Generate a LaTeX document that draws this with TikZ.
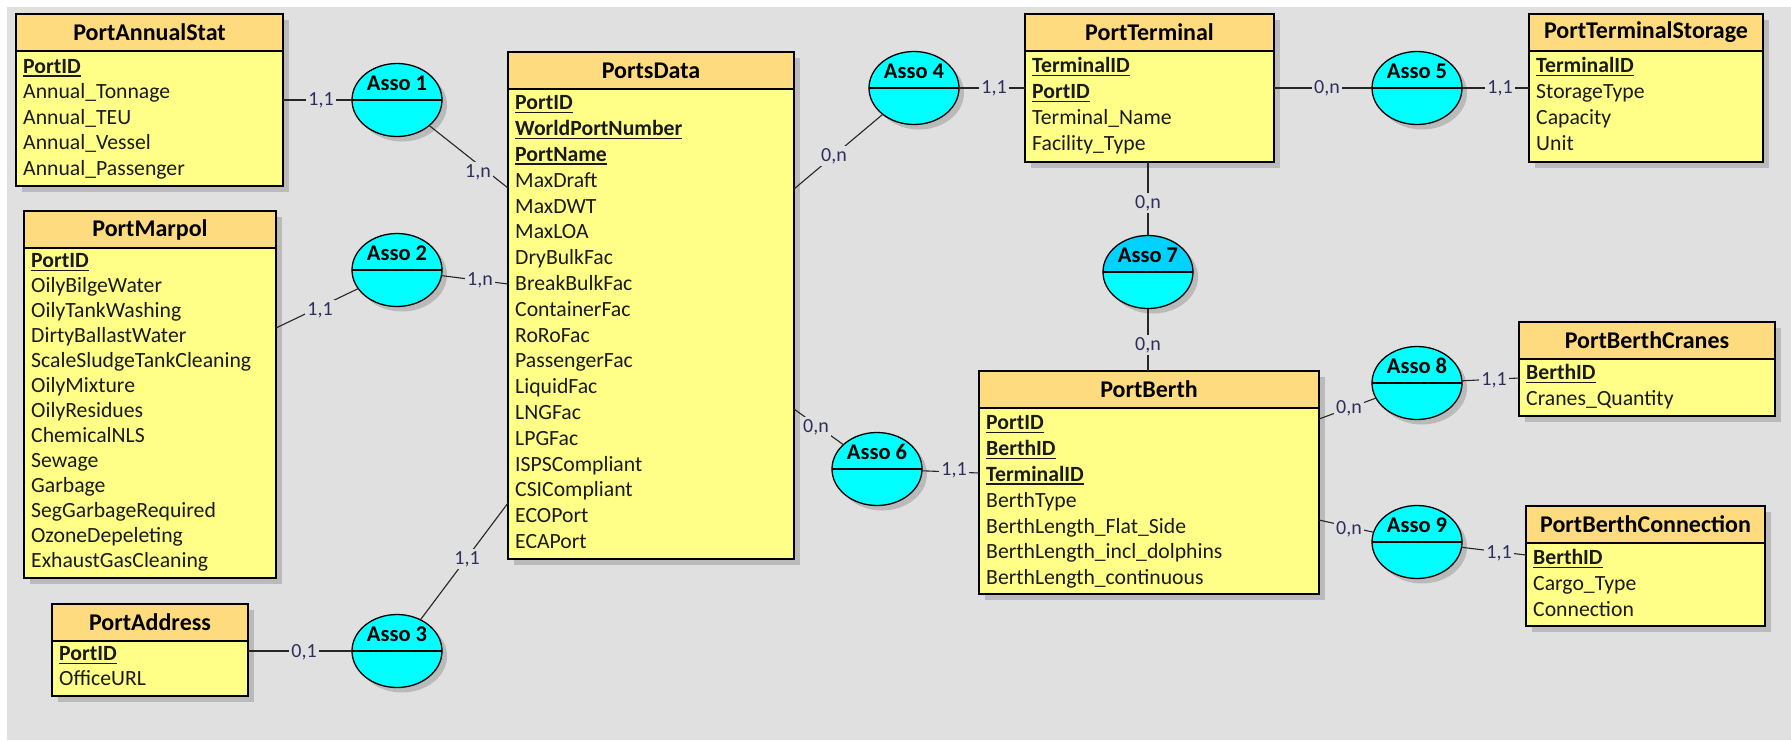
\documentclass[tikz,border=0pt]{standalone}
\usepackage{fontspec}
\setmainfont{Carlito}
\usetikzlibrary{shapes.geometric,shadows,calc}
\definecolor{bgc}{HTML}{E0E0E0}
\definecolor{bodyc}{HTML}{FFFF88}
\definecolor{headc}{HTML}{FFDB80}
\definecolor{assoc}{HTML}{00FFFF}
\definecolor{assotop}{HTML}{00D2FF}
\definecolor{cardc}{HTML}{2E2E5E}
\definecolor{txtc}{HTML}{1A1A1A}
\newcommand\pk[1]{\setbox0\hbox{\textbf{#1}}\rlap{\rule[-3.5pt]{\wd0}{1.6pt}}\box0}
% name, x1, y1, x2, y2, title, first row centre, spacing, rows
\newcommand\entity[9]{%
  \node[entbody, minimum width={(#4-#2)*1pt}, minimum height={(#5-#3)*1pt}, anchor=north west] (#1) at (#2,#3) {};
  \node[enthead, minimum width={(#4-#2)*1pt}, anchor=north west] (#1-title) at (#1.north west) {#6};
  \foreach \t [count=\i] in {#9} \node[attr] (#1-\i) at (#2+7, {#7+6.8+(\i-1)*#8}) {\t};
}
\newcommand\asso[5][]{%
  \node[asso,#1] (#2) at (#3,#4) {};
  \draw[assoline] (#2.west) -- (#2.east);
  \node[assolabel] (#2-t) at ([yshift=17pt]#2.center) {#5};
}
\begin{document}
\begin{tikzpicture}[x=1pt, y=-1pt,
  entbody/.style={draw=black, line width=1.3pt, fill=bodyc, inner sep=0pt, outer sep=0pt,
     drop shadow={shadow xshift=6pt, shadow yshift=-6pt, fill=black, opacity=0.17}},
  enthead/.style={draw=black, line width=1.3pt, fill=headc, inner sep=0pt, outer sep=0pt,
     minimum height=37pt, font=\fontsize{24}{28}\selectfont\bfseries, text=black},
  attr/.style={anchor=base west, inner sep=0pt, font=\fontsize{21.7}{26}\selectfont, text=txtc},
  asso/.style={ellipse, draw=black, line width=1.3pt, fill=assoc, inner sep=0pt, outer sep=0pt,
     minimum width=90pt, minimum height=73pt,
     drop shadow={shadow xshift=5pt, shadow yshift=-5pt, fill=black, opacity=0.17}},
  assoline/.style={draw=black, line width=1.3pt},
  assolabel/.style={inner sep=0pt, font=\fontsize{22.5}{26}\selectfont\bfseries, text=black},
  conn/.style={draw=black!85, line width=1.1pt},
  card/.style={fill=bgc, inner sep=2pt, font=\fontsize{20}{24}\selectfont, text=cardc},
  topfill/.style={path picture={\fill[assotop] (path picture bounding box.north west) rectangle (path picture bounding box.east);}}
]
\useasboundingbox (0,0) rectangle (1791,740);
\fill[white] (0,0) rectangle (1791,740);
\fill[bgc] (7,7) rectangle (1791,740);

% entities
\entity{PortAnnualStat}{16}{14}{283}{186}{PortAnnualStat}{66.5}{25.5}{\pk{PortID},Annual\_Tonnage,Annual\_TEU,Annual\_Vessel,Annual\_Passenger}
\entity{PortsData}{508}{52}{794}{559}{PortsData}{103}{25.8}{\pk{PortID},\pk{WorldPortNumber},\pk{PortName},MaxDraft,MaxDWT,MaxLOA,DryBulkFac,BreakBulkFac,ContainerFac,RoRoFac,PassengerFac,LiquidFac,LNGFac,LPGFac,ISPSCompliant,CSICompliant,ECOPort,ECAPort}
\entity{PortMarpol}{24}{211}{276}{578}{PortMarpol}{261}{25}{\pk{PortID},OilyBilgeWater,OilyTankWashing,DirtyBallastWater,ScaleSludgeTankCleaning,OilyMixture,OilyResidues,ChemicalNLS,Sewage,Garbage,SegGarbageRequired,OzoneDepeleting,ExhaustGasCleaning}
\entity{PortAddress}{52}{604}{248}{696}{PortAddress}{654}{24.5}{\pk{PortID},OfficeURL}
\entity{PortTerminal}{1025}{14}{1274}{162}{PortTerminal}{66}{26}{\pk{TerminalID},\pk{PortID},Terminal\_Name,Facility\_Type}
\entity{PortTerminalStorage}{1529}{14}{1763}{162}{PortTerminalStorage}{66}{26}{\pk{TerminalID},StorageType,Capacity,Unit}
\entity{PortBerth}{979}{371}{1319}{594}{PortBerth}{423}{25.8}{\pk{PortID},\pk{BerthID},\pk{TerminalID},BerthType,BerthLength\_Flat\_Side,BerthLength\_incl\_dolphins,BerthLength\_continuous}
\entity{PortBerthCranes}{1519}{322}{1775}{416}{PortBerthCranes}{373}{26}{\pk{BerthID},Cranes\_Quantity}
\entity{PortBerthConnection}{1526}{506}{1765}{626}{PortBerthConnection}{558}{26}{\pk{BerthID},Cargo\_Type,Connection}

% associations
\asso{a1}{397}{100}{Asso 1}
\asso{a2}{397}{270}{Asso 2}
\asso{a3}{397}{651}{Asso 3}
\asso{a4}{914}{88}{Asso 4}
\asso{a5}{1417}{88}{Asso 5}
\asso{a6}{877}{469}{Asso 6}
\asso[topfill]{a7}{1148}{272}{Asso 7}
\asso{a8}{1417}{383}{Asso 8}
\asso{a9}{1417}{542}{Asso 9}

% connectors
\draw[conn] (PortAnnualStat.east |- a1) -- (a1);
\draw[conn] (a1) -- ($(PortsData.north west)+(0,136)$);
\draw[conn] (a2) -- ($(PortsData.north west)+(0,232)$);
\draw[conn] (a2) -- ($(PortMarpol.north east)+(0,117)$);
\draw[conn] (PortAddress.east |- a3) -- (a3);
\draw[conn] (a3) -- ($(PortsData.north west)+(0,451)$);
\draw[conn] (a4) -- ($(PortsData.north east)+(0,137)$);
\draw[conn] (a4) -- (PortTerminal.west |- a4);
\draw[conn] (PortTerminal.east |- a5) -- (a5);
\draw[conn] (a5) -- (PortTerminalStorage.west |- a5);
\draw[conn] (a7 |- PortTerminal.south) -- (a7);
\draw[conn] (a7) -- (a7 |- PortBerth.north);
\draw[conn] ($(PortsData.north east)+(0,357)$) -- (a6);
\draw[conn] (a6) -- ($(PortBerth.north west)+(0,102)$);
\draw[conn] ($(PortBerth.north east)+(0,48)$) -- (a8);
\draw[conn] (a8) -- ($(PortBerthCranes.north west)+(0,56)$);
\draw[conn] ($(PortBerth.north east)+(0,149)$) -- (a9);
\draw[conn] (a9) -- ($(PortBerthConnection.north west)+(0,49)$);

% cardinalities
\node[card] (c1) at (321,100) {1,1};
\node[card] (c2) at (478,172) {1,n};
\node[card] (c3) at (480,280) {1,n};
\node[card] (c4) at (320,310) {1,1};
\node[card] (c5) at (304,652) {0,1};
\node[card] (c6) at (467,559) {1,1};
\node[card] (c7) at (834,156) {0,n};
\node[card] (c8) at (994,88) {1,1};
\node[card] (c9) at (1327,88) {0,n};
\node[card] (c10) at (1500,88) {1,1};
\node[card] (c11) at (1148,203) {0,n};
\node[card] (c12) at (1148,345) {0,n};
\node[card] (c13) at (816,427) {0,n};
\node[card] (c14) at (954,470) {1,1};
\node[card] (c15) at (1349,408) {0,n};
\node[card] (c16) at (1494,380) {1,1};
\node[card] (c17) at (1349,529) {0,n};
\node[card] (c18) at (1499,553) {1,1};
\end{tikzpicture}
\end{document}
